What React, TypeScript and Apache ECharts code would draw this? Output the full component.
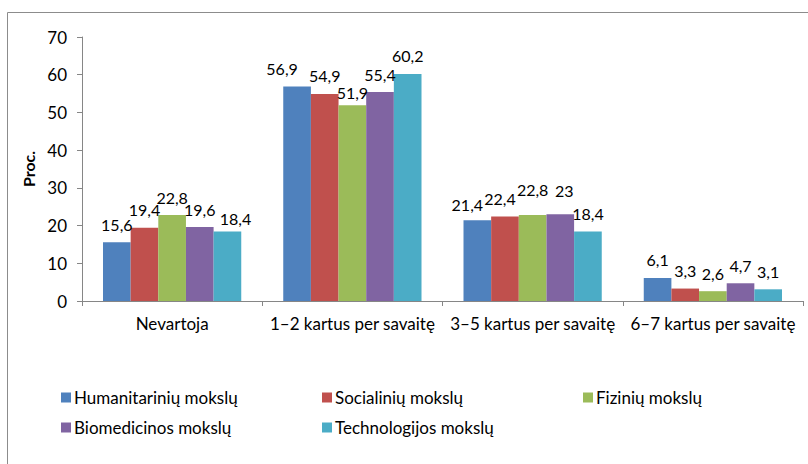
import React, { useEffect, useRef } from "react";
import * as echarts from "echarts";

const categories = ["Nevartoja", "1–2 kartus per savaitę", "3–5 kartus per savaitę", "6–7 kartus per savaitę"];
const seriesNames = ["Humanitarinių mokslų", "Socialinių mokslų", "Fizinių mokslų", "Biomedicinos mokslų", "Technologijos mokslų"];
const humanitariniu = [15.6, 56.9, 21.4, 6.1];
const socialiniu = [19.4, 54.9, 22.4, 3.3];
const fiziniu = [22.8, 51.9, 22.8, 2.6];
const biomedicinos = [19.6, 55.4, 23, 4.7];
const technologijos = [18.4, 60.2, 18.4, 3.1];
const seriesValues = [humanitariniu, socialiniu, fiziniu, biomedicinos, technologijos];
const colors = ["#4F81BD", "#C0504D", "#9BBB59", "#8064A2", "#4BACC6"];

// label nudges [dx, dy] per series per category (as placed in the reference)
const labelOffsets: number[][][] = [
  [[0, 0], [-15, 0], [-10, 2], [0, 0]],
  [[0, 0], [0, 0], [-5, 0], [0, 0]],
  [[0, 0], [0, 5], [0, -8], [0, 0]],
  [[0, 0], [0, 0], [4, -6], [0, 0]],
  [[8, 5], [0, 0], [0, 0], [0, 0]],
];

const FONT = 'Lato, "Liberation Sans", Arial, sans-serif';
const legendLeft = [61, 322, 583, 61, 322];
const legendTop = [389, 389, 389, 419, 419];

export default function App() {
  const ref = useRef<HTMLDivElement>(null);
  useEffect(() => {
    document.body.style.margin = "0";
    const chart = echarts.init(ref.current!, null, { renderer: "svg" });
    chart.setOption({
      animation: false,
      textStyle: { fontFamily: FONT },
      grid: { left: 82, right: 5, top: 37, bottom: 163 },
      legend: seriesNames.map((name, i) => ({
        data: [name],
        left: legendLeft[i],
        top: legendTop[i],
        icon: "rect",
        itemWidth: 10,
        itemHeight: 10,
        padding: 0,
        textStyle: { fontSize: 17, color: "#000", fontFamily: FONT, padding: [0, 0, 0, -2] },
      })),
      xAxis: {
        type: "category",
        data: categories,
        axisLine: { lineStyle: { color: "#868686" } },
        axisTick: { show: true, length: 5, lineStyle: { color: "#868686" } },
        axisLabel: { color: "#000", fontSize: 17, margin: 14, fontFamily: FONT, interval: 0 },
      },
      yAxis: {
        type: "value",
        min: 0,
        max: 70,
        interval: 10,
        name: "Proc.",
        nameLocation: "middle",
        nameGap: 40,
        nameTextStyle: { fontWeight: "bold", fontSize: 16, color: "#000", fontFamily: FONT },
        axisLine: { show: true, lineStyle: { color: "#868686" } },
        axisTick: { show: true, length: 5, lineStyle: { color: "#868686" } },
        axisLabel: { color: "#000", fontSize: 17, margin: 15, fontFamily: FONT },
        splitLine: { show: false },
      },
      series: seriesNames.map((name, i) => ({
        name,
        type: "bar",
        data: seriesValues[i],
        barGap: "0%",
        barCategoryGap: "23.3%",
        itemStyle: { color: colors[i] },
        label: {
          show: true,
          position: "top",
          distance: 10,
          fontSize: 16,
          color: "#000",
          fontFamily: FONT,
          formatter: (p: any) => String(p.value).replace(".", ","),
        },
        labelLayout: (p: any) => {
          const o = labelOffsets[i][p.dataIndex] || [0, 0];
          return { dx: o[0], dy: o[1], hideOverlap: false };
        },
      })),
      graphic: [
        { type: "line", shape: { x1: 7.5, y1: 12.5, x2: 808, y2: 12.5 }, style: { stroke: "#8c8c8c", lineWidth: 1 } },
        { type: "line", shape: { x1: 7.5, y1: 12.5, x2: 7.5, y2: 464 }, style: { stroke: "#8c8c8c", lineWidth: 1 } },
      ],
    });
    return () => chart.dispose();
  }, []);
  return <div ref={ref} style={{ width: 808, height: 464 }} />;
}
